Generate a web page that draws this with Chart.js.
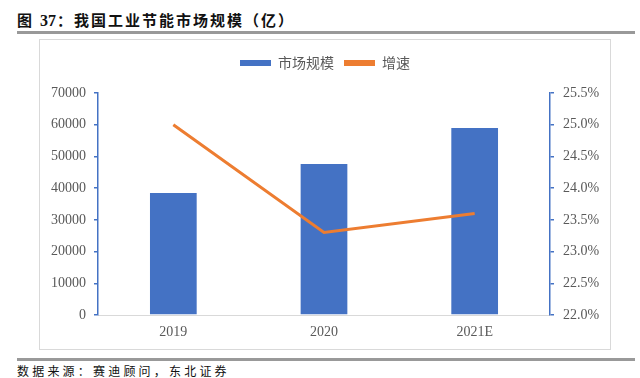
<!DOCTYPE html>
<html>
<head>
<meta charset="utf-8">
<style>
body { margin: 0; background: #fff; }
#page { position: relative; width: 640px; height: 378px; overflow: hidden; font-family: "Noto Sans CJK SC", sans-serif; }
#title { position: absolute; left: 17px; top: 10px; font-size: 15px; font-weight: bold; line-height: 20px; color: #111; white-space: nowrap; letter-spacing: 2px; }
#title .num { font-family: "Liberation Serif", serif; font-size: 16px; letter-spacing: 0; margin: 0 1px 0 6px; }
.rule { position: absolute; left: 17px; width: 618px; height: 3px; background: #999; }
#box { position: absolute; left: 39px; top: 39px; width: 572px; height: 311px; border: 1px solid #d9d9d9; box-sizing: border-box; }
#chart { position: absolute; left: 40px; top: 40px; }
#source { position: absolute; left: 17px; top: 363px; font-size: 12px; line-height: 16px; color: #111; white-space: nowrap; letter-spacing: 3.2px; }
</style>
</head>
<body>
<div id="page">
  <div id="title">图<span class="num">37</span>：我国工业节能市场规模（亿）</div>
  <div class="rule" style="top:31px"></div>
  <div id="box"></div>
  <canvas id="chart" width="570" height="309"></canvas>
  <div class="rule" style="top:358px"></div>
  <div id="source">数据来源：赛迪顾问，东北证券</div>
</div>

<script src="https://cdn.jsdelivr.net/npm/chart.js"></script>
<script>
const years = ['2019', '2020', '2021E'];
const marketSize = [38500, 47600, 59000];
const growthRate = [25.0, 23.3, 23.6];

const blue = '#4472C4';
const orange = '#ED7D31';
const grey = '#595959';

Chart.defaults.font.family = '"Liberation Serif", serif';
Chart.defaults.font.size = 14;
Chart.defaults.color = grey;

// legend needs extra room below it
const legendGap = {
  id: 'legendGap',
  beforeUpdate(chart) {
    const lg = chart.legend;
    if (lg && !lg._gap) {
      const fit = lg.fit;
      lg.fit = function () { fit.call(this); this.height = 47; };
      lg._gap = true;
    }
  }
};

new Chart(document.getElementById('chart'), {
  type: 'bar',
  data: {
    labels: years,
    datasets: [
      { label: '市场规模', data: marketSize, backgroundColor: blue, yAxisID: 'y', order: 1,
        categoryPercentage: 1, barPercentage: 0.31 },
      { label: '增速', type: 'line', data: growthRate, borderColor: orange, backgroundColor: orange,
        borderWidth: 3, pointRadius: 0, tension: 0, yAxisID: 'y1', order: 0 }
    ]
  },
  options: {
    responsive: false,
    animation: false,
    devicePixelRatio: 1,
    layout: { padding: { top: 6, bottom: 0, left: 0, right: 0 } },
    plugins: {
      tooltip: { enabled: false },
      legend: {
        position: 'top',
        labels: {
          boxWidth: 31, boxHeight: 6, padding: 10,
          font: { family: '"Noto Sans CJK SC", sans-serif', size: 14 },
          color: grey,
          generateLabels: chart => chart.data.datasets.map((ds, i) => ({
            text: ds.label, fillStyle: ds.type === 'line' ? ds.borderColor : ds.backgroundColor,
            strokeStyle: 'rgba(0,0,0,0)', lineWidth: 0, datasetIndex: i, fontColor: grey
          }))
        }
      }
    },
    scales: {
      x: {
        grid: { display: false, drawTicks: false },
        border: { color: '#d9d9d9', width: 1 },
        ticks: { padding: 9 },
        afterFit: s => { s.height = 34; }
      },
      y: {
        position: 'left', min: 0, max: 70000,
        ticks: { stepSize: 10000, padding: 8, callback: v => String(v) },
        grid: { drawOnChartArea: false, color: blue, tickLength: 4, lineWidth: 1.5 },
        border: { color: blue, width: 1.5 },
        afterFit: s => { s.width = 58; }
      },
      y1: {
        position: 'right', min: 22, max: 25.5,
        ticks: { stepSize: 0.5, padding: 9, callback: v => v.toFixed(1) + '%' },
        grid: { drawOnChartArea: false, color: blue, tickLength: 4, lineWidth: 1.5 },
        border: { color: blue, width: 1.5 },
        afterFit: s => { s.width = 60; }
      }
    }
  },
  plugins: [legendGap]
});
</script>
</body>
</html>
